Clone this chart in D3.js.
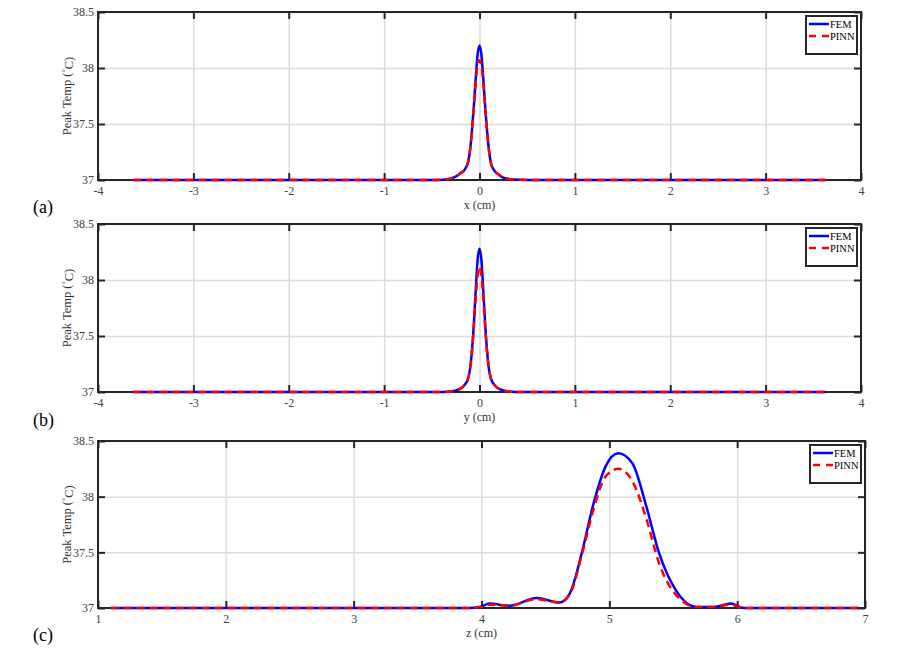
<!DOCTYPE html>
<html lang="en">
<head>
    <meta charset="UTF-8">
    <title>Peak Temp profiles: FEM vs PINN</title>
    <script src="https://d3js.org/d3.v7.min.js"></script>
    <style>
        body { margin: 0; background: #fff; }
        svg { display: block; }
        text { font-family: "Liberation Serif", "Times New Roman", serif; }
    </style>
</head>
<body>
    <svg id="chart" width="898" height="649"></svg>

    <script>
        // ---- data ----
        // (a) profile along x
        const xA    = [-3.63, -0.5, -0.35, -0.25, -0.2, -0.15, -0.12, -0.1, -0.08, -0.06, -0.04, -0.02, 0, 0.02, 0.04, 0.06, 0.08, 0.1, 0.12, 0.15, 0.2, 0.25, 0.35, 0.5, 3.63];
        const femA  = [37, 37, 37.005, 37.03, 37.06, 37.1, 37.16, 37.26, 37.43, 37.65, 37.9, 38.12, 38.2, 38.12, 37.9, 37.65, 37.43, 37.26, 37.15, 37.09, 37.05, 37.02, 37.004, 37, 37];
        const pinnA = [37, 37, 37.005, 37.03, 37.06, 37.1, 37.16, 37.26, 37.43, 37.63, 37.86, 38.02, 38.07, 38.02, 37.86, 37.63, 37.43, 37.26, 37.15, 37.09, 37.05, 37.02, 37.004, 37, 37];

        // (b) profile along y
        const xB    = [-3.63, -0.45, -0.3, -0.2, -0.15, -0.12, -0.1, -0.08, -0.06, -0.04, -0.02, 0, 0.02, 0.04, 0.06, 0.08, 0.1, 0.12, 0.15, 0.2, 0.3, 0.45, 3.63];
        const femB  = [37, 37, 37.005, 37.03, 37.07, 37.12, 37.2, 37.36, 37.6, 37.9, 38.18, 38.28, 38.18, 37.9, 37.6, 37.36, 37.2, 37.12, 37.07, 37.03, 37.005, 37, 37];
        const pinnB = [37, 37, 37.005, 37.03, 37.07, 37.12, 37.2, 37.35, 37.57, 37.83, 38.04, 38.12, 38.04, 37.83, 37.57, 37.35, 37.2, 37.12, 37.07, 37.03, 37.005, 37, 37];

        // (c) profile along z
        const xC    = [1.1, 3.9, 4.0, 4.06, 4.22, 4.43, 4.61, 4.69, 4.79, 4.87, 4.97, 5.07, 5.18, 5.29, 5.39, 5.52, 5.68, 5.82, 5.95, 6.05, 6.95];
        const femC  = [37, 37, 37.014, 37.04, 37.02, 37.09, 37.05, 37.13, 37.52, 37.91, 38.27, 38.39, 38.3, 37.91, 37.49, 37.16, 37.01, 37.01, 37.04, 37.0, 37];
        const pinnC = [37, 37, 37.01, 37.03, 37.02, 37.08, 37.05, 37.12, 37.5, 37.86, 38.18, 38.25, 38.14, 37.8, 37.4, 37.12, 37.01, 37.01, 37.03, 37.0, 37];

        const xTicksAB = [-4, -3, -2, -1, 0, 1, 2, 3, 4];
        const xTicksC  = [1, 2, 3, 4, 5, 6, 7];
        const yTicks   = [37, 37.5, 38, 38.5];
        const seriesNames = ["FEM", "PINN"];

        const panels = [
            { tag: "(a)", xlabel: "x (cm)", xs: xA, fem: femA, pinn: pinnA, dom: [-4, 4], ticks: xTicksAB,
              left: 98, right: 861, top: 12, bottom: 180, tagY: 213 },
            { tag: "(b)", xlabel: "y (cm)", xs: xB, fem: femB, pinn: pinnB, dom: [-4, 4], ticks: xTicksAB,
              left: 98, right: 861, top: 224, bottom: 392, tagY: 426 },
            { tag: "(c)", xlabel: "z (cm)", xs: xC, fem: femC, pinn: pinnC, dom: [1, 7], ticks: xTicksC,
              left: 98, right: 865, top: 441, bottom: 608, tagY: 641 }
        ];

        const svg = d3.select("#chart");
        svg.append("rect").attr("width", 898).attr("height", 649).attr("fill", "#fff");

        const axisColor = "#262626";
        const gridColor = "#dcdcdc";

        panels.forEach(p => drawPanel(p));

        function drawPanel(p) {
            const w = p.right - p.left;
            const h = p.bottom - p.top;

            const x = d3.scaleLinear().domain(p.dom).range([0, w]);
            const y = d3.scaleLinear().domain([37, 38.5]).range([h, 0]);

            const g = svg.append("g").attr("transform", `translate(${p.left},${p.top})`);

            // grid
            const gx = g.append("g")
                .attr("transform", `translate(0,${h})`)
                .call(d3.axisBottom(x).tickValues(p.ticks).tickSize(-h).tickFormat(""));
            const gy = g.append("g")
                .call(d3.axisLeft(y).tickValues(yTicks).tickSize(-w).tickFormat(""));
            [gx, gy].forEach(a => {
                a.select(".domain").remove();
                a.selectAll("line").attr("stroke", gridColor).attr("stroke-width", 1.5);
            });

            // axes (inward ticks on all four sides)
            const bottom = g.append("g")
                .attr("transform", `translate(0,${h})`)
                .call(d3.axisBottom(x).tickValues(p.ticks).tickSizeInner(-7).tickSizeOuter(0).tickPadding(6).tickFormat(d => String(d)));
            const left = g.append("g")
                .call(d3.axisLeft(y).tickValues(yTicks).tickSizeInner(-7).tickSizeOuter(0).tickPadding(4).tickFormat(d => String(d)));
            const top = g.append("g")
                .call(d3.axisTop(x).tickValues(p.ticks).tickSizeInner(-7).tickSizeOuter(0).tickFormat(""));
            const right = g.append("g")
                .attr("transform", `translate(${w},0)`)
                .call(d3.axisRight(y).tickValues(yTicks).tickSizeInner(-7).tickSizeOuter(0).tickFormat(""));
            [bottom, left, top, right].forEach(a => {
                a.select(".domain").remove();
                a.selectAll("line").attr("stroke", axisColor).attr("stroke-width", 2);
                a.selectAll("text")
                    .attr("fill", "#404040")
                    .style("font-family", '"Liberation Serif", serif')
                    .style("font-size", "12px");
            });

            g.append("rect")
                .attr("width", w).attr("height", h)
                .attr("fill", "none")
                .attr("stroke", axisColor)
                .attr("stroke-width", 2);

            // curves
            const pts = vals => p.xs.map((v, i) => [v, vals[i]]);
            const line = d3.line()
                .x(d => x(d[0]))
                .y(d => y(d[1]))
                .curve(d3.curveMonotoneX);

            g.append("path")
                .datum(pts(p.fem))
                .attr("d", line)
                .attr("fill", "none")
                .attr("stroke", "#0000ff")
                .attr("stroke-width", 2.5);

            g.append("path")
                .datum(pts(p.pinn))
                .attr("d", line)
                .attr("fill", "none")
                .attr("stroke", "#ff0000")
                .attr("stroke-width", 2.5)
                .attr("stroke-dasharray", "8,5");

            // axis labels
            g.append("text")
                .attr("x", w / 2)
                .attr("y", h + 29)
                .attr("text-anchor", "middle")
                .attr("fill", "#333")
                .style("font-size", "12px")
                .text(p.xlabel);

            const yl = g.append("text")
                .attr("transform", `translate(${67 - p.left},${h / 2}) rotate(-90)`)
                .attr("text-anchor", "middle")
                .attr("dy", "0.35em")
                .attr("fill", "#333")
                .style("font-size", "12.5px");
            yl.append("tspan").text("Peak Temp (");
            yl.append("tspan").attr("dy", "-0.45em").style("font-size", "8px").text("°");
            yl.append("tspan").attr("dy", "0.45em").text("C)");

            // panel tag
            svg.append("text")
                .attr("x", 33)
                .attr("y", p.tagY)
                .attr("fill", "#000")
                .style("font-size", "18px")
                .text(p.tag);

            // legend
            const lw = 51, lh = 38;
            const leg = g.append("g").attr("transform", `translate(${w - 4 - lw},4)`);
            leg.append("rect")
                .attr("width", lw).attr("height", lh)
                .attr("fill", "#fff")
                .attr("stroke", axisColor)
                .attr("stroke-width", 2);
            seriesNames.forEach((name, i) => {
                const ly = 8 + i * 12;
                leg.append("line")
                    .attr("x1", 3).attr("x2", 23)
                    .attr("y1", ly).attr("y2", ly)
                    .attr("stroke", i === 0 ? "#0000ff" : "#ff0000")
                    .attr("stroke-width", 2.5)
                    .attr("stroke-dasharray", i === 0 ? null : "7,6");
                leg.append("text")
                    .attr("x", 24)
                    .attr("y", ly)
                    .attr("dy", "0.35em")
                    .attr("fill", "#000")
                    .style("font-size", "10.5px")
                    .text(name);
            });
        }
    </script>
</body>
</html>
